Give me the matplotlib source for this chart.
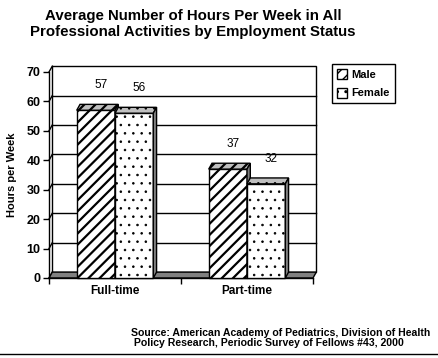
import matplotlib
matplotlib.use("Agg")
import matplotlib.pyplot as plt
from matplotlib.patches import Polygon, Rectangle, Patch
from matplotlib.lines import Line2D

categories = ["Full-time", "Part-time"]
male = [57, 37]
female = [56, 32]
series_names = ["Male", "Female"]
yticks = [0, 10, 20, 30, 40, 50, 60, 70]

title = "Average Number of Hours Per Week in All\nProfessional Activities by Employment Status"
source = "Source: American Academy of Pediatrics, Division of Health\n Policy Research, Periodic Survey of Fellows #43, 2000"

plt.rcParams['font.family'] = ['Liberation Sans', 'DejaVu Sans']
plt.rcParams['font.weight'] = 'bold'

W, H = 439, 358
fig = plt.figure(figsize=(W / 100, H / 100), dpi=100)
ax = fig.add_axes([49 / W, 1 - 278 / H, 264 / W, 206 / H])
ax.set_xlim(-0.5, 1.5)
ax.set_ylim(0, 70)
for s in ax.spines.values():
    s.set_visible(False)

dx, dy = 0.025, 2.0
x0, x1 = -0.5, 1.5
ymax = 70

# back wall
ax.add_patch(Rectangle((x0 + dx, dy), x1 - x0, ymax, facecolor='white',
                       edgecolor='black', lw=1.0, clip_on=False, zorder=1))
for v in yticks[1:-1]:
    ax.plot([x0 + dx, x1 + dx], [v + dy, v + dy], color='black', lw=1.0,
            clip_on=False, zorder=2)
for v in yticks:
    ax.plot([x0, x0 + dx], [v, v + dy], color='black', lw=1.0, clip_on=False, zorder=2)

# floor
ax.add_patch(Polygon([(x0, 0), (x1, 0), (x1 + dx, dy), (x0 + dx, dy)],
                     closed=True, facecolor='#808080', edgecolor='black', lw=1.0,
                     clip_on=False, zorder=3))
ax.plot([x0, x0], [0, ymax], color='black', lw=1.0, clip_on=False, zorder=3)
ax.plot([x0, x1], [0, 0], color='black', lw=1.0, clip_on=False, zorder=3)

bw = 0.29
hatches = ['///', '..']
hatch_lw = [1.6, 0.6]
z = 4
for i, cat in enumerate(categories):
    for j, (vals, hatch) in enumerate(zip([male, female], hatches)):
        h = vals[i]
        left = i - bw + j * bw
        right = left + bw
        with plt.rc_context({'hatch.linewidth': hatch_lw[j]}):
            ax.bar(left, h, width=bw, align='edge', facecolor='white', edgecolor='black',
                   hatch=hatch, lw=1.0, zorder=z, clip_on=False)
            ax.add_patch(Polygon([(left, h), (right, h), (right + dx, h + dy), (left + dx, h + dy)],
                                 closed=True, facecolor='#c0c0c0', edgecolor='black',
                                 hatch=hatch, lw=1.0, zorder=z, clip_on=False))
        ax.add_patch(Polygon([(right, 0), (right + dx, dy), (right + dx, h + dy), (right, h)],
                             closed=True, facecolor='#808080', edgecolor='black',
                             lw=1.0, zorder=z, clip_on=False))
        ax.text(left + bw / 2 + 0.04, h + 8.5, str(h), ha='center', va='center',
                fontsize=8.5, fontweight='normal', zorder=10)
        z += 1

ax.set_yticks(yticks)
ax.set_yticklabels([str(v) for v in yticks], fontsize=9, fontweight='bold')
ax.tick_params(axis='y', length=4, width=1, pad=2)
ax.set_xticks([-0.5, 0.5, 1.5])
ax.set_xticklabels([])
ax.tick_params(axis='x', which='major', length=4, width=1, direction='out')
ax.set_xticks([0, 1], minor=True)
ax.set_xticklabels(categories, minor=True, fontsize=8.5, fontweight='bold')
ax.tick_params(axis='x', which='minor', length=0, pad=5)
ax.set_ylabel("Hours per Week", fontsize=8, fontweight='bold', labelpad=7)

handles = []
for h, lw in zip(hatches, hatch_lw):
    with plt.rc_context({'hatch.linewidth': lw}):
        handles.append(Patch(facecolor='white', edgecolor='black', hatch=h, lw=1.0))
leg = fig.legend(handles, series_names, loc='upper left',
                 bbox_to_anchor=(332 / W, 1 - 64 / H), frameon=True, fancybox=False,
                 edgecolor='black', framealpha=1, handlelength=0.9, handleheight=1.0,
                 handletextpad=0.4, borderpad=0.45, labelspacing=0.7,
                 prop={'size': 8, 'weight': 'bold'}, borderaxespad=0)
leg.get_frame().set_linewidth(1.0)

fig.text(193 / W, 1 - 24 / H, title, ha='center', va='center', fontsize=10.8,
         fontweight='bold', linespacing=1.15)
fig.text(131 / W, 1 - 338 / H, source, ha='left', va='center', fontsize=7.6,
         fontweight='bold', linespacing=1.1)
fig.add_artist(Line2D([0, 1], [1 - 354 / H, 1 - 354 / H], color='black', lw=1.0,
                      transform=fig.transFigure))

fig.savefig("out.png", dpi=100)
